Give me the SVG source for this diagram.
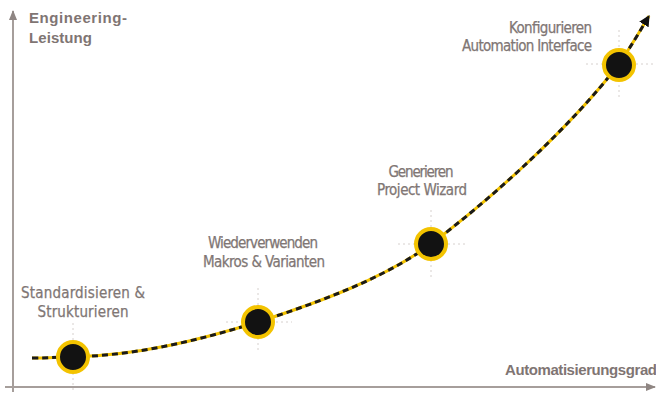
<svg xmlns="http://www.w3.org/2000/svg" width="656" height="393" viewBox="0 0 656 393">
<style>
.axis{stroke:#a69e9b;stroke-width:2;fill:none}
.axlbl{font-family:"Liberation Sans","DejaVu Sans",sans-serif;font-weight:bold;font-size:15px;fill:#7f7573}
.lbl{font-family:"Liberation Sans Narrow","DejaVu Sans Condensed","Liberation Sans",sans-serif;font-size:15px;fill:#807674;stroke:#807674;stroke-width:0.25}
.cross{stroke:#d6d0cd;stroke-width:1;stroke-dasharray:2 3;fill:none}
.node{fill:#121212;stroke:#f3c300;stroke-width:4}
.cy{stroke:#f3c300;stroke-width:3;fill:none}
.cb{stroke:#1a1a1a;stroke-width:3;fill:none;stroke-dasharray:6 4}
</style>
<defs>
<marker id="axArrow" viewBox="0 0 10 10" refX="9" refY="5" markerWidth="10" markerHeight="10" markerUnits="userSpaceOnUse" orient="auto">
<path d="M0,1 L10,5 L0,9 Z" fill="#8f8683"/>
</marker>
<marker id="curveArrow" viewBox="0 0 10 10" refX="9" refY="5" markerWidth="11" markerHeight="11" markerUnits="userSpaceOnUse" orient="auto">
<path d="M0,0 L10,5 L0,10 Z" fill="#111"/>
</marker>
</defs>
<rect width="656" height="393" fill="#fff"/>
<g id="axes">
<line class="axis" x1="13" y1="392" x2="13" y2="11" marker-end="url(#axArrow)"/>
<line class="axis" x1="5" y1="387" x2="655" y2="387" marker-end="url(#axArrow)"/>
<text class="axlbl" x="29" y="23" textLength="98" lengthAdjust="spacing">Engineering-</text>
<text class="axlbl" x="29" y="43" textLength="63" lengthAdjust="spacing">Leistung</text>
<text class="axlbl" x="505" y="375" textLength="152" lengthAdjust="spacing">Automatisierungsgrad</text>
</g>
<g id="crosshairs">
<line class="cross" x1="73" y1="323" x2="73" y2="393"/>
<line class="cross" x1="258" y1="288" x2="258" y2="352"/>
<line class="cross" x1="226" y1="322" x2="292" y2="322"/>
<line class="cross" x1="431" y1="210" x2="431" y2="278"/>
<line class="cross" x1="398" y1="244" x2="466" y2="244"/>
<line class="cross" x1="619" y1="30" x2="619" y2="98"/>
<line class="cross" x1="586" y1="64" x2="653" y2="64"/>
</g>
<g id="connectors">
<path class="cy" d="M32,358 C50,358 60,357 73,357 C140,355 200,340 258,322 C320,302 385,278 431,244 C490,200 570,128 619,64 C630,48 640,31 649,16"/>
<path class="cb" d="M32,358 C50,358 60,357 73,357 C140,355 200,340 258,322 C320,302 385,278 431,244 C490,200 570,128 619,64 C630,48 640,31 649,16" marker-end="url(#curveArrow)"/>
</g>
<g id="node1">
<circle class="node" cx="73" cy="357" r="15"/>
<text class="lbl" x="83" y="298" text-anchor="middle" textLength="124" lengthAdjust="spacing">Standardisieren &amp;</text>
<text class="lbl" x="83" y="317" text-anchor="middle" textLength="91" lengthAdjust="spacing">Strukturieren</text>
</g>
<g id="node2">
<circle class="node" cx="258" cy="322" r="15"/>
<text class="lbl" x="263" y="248" text-anchor="middle" textLength="110" lengthAdjust="spacing">Wiederverwenden</text>
<text class="lbl" x="264" y="267" text-anchor="middle" textLength="122" lengthAdjust="spacing">Makros &amp; Varianten</text>
</g>
<g id="node3">
<circle class="node" cx="431" cy="244" r="15"/>
<text class="lbl" x="421" y="177" text-anchor="middle" textLength="65" lengthAdjust="spacing">Generieren</text>
<text class="lbl" x="422" y="195" text-anchor="middle" textLength="90" lengthAdjust="spacing">Project Wizard</text>
</g>
<g id="node4">
<circle class="node" cx="619" cy="65" r="15"/>
<text class="lbl" x="592" y="33" text-anchor="end" textLength="83" lengthAdjust="spacing">Konfigurieren</text>
<text class="lbl" x="592" y="51" text-anchor="end" textLength="130" lengthAdjust="spacing">Automation Interface</text>
</g>
</svg>
